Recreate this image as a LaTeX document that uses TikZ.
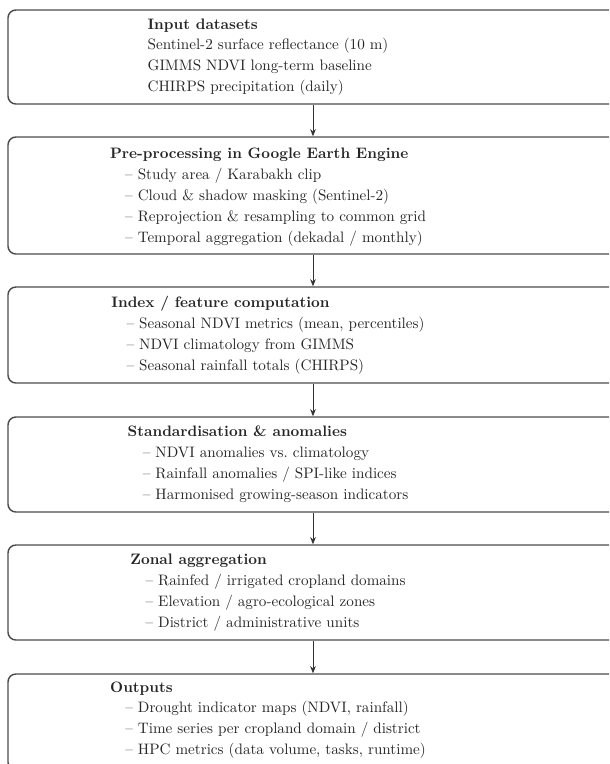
\documentclass[tikz,border=0pt]{standalone}
\usepackage{amsmath,amssymb}
\usepackage{tikz}
\usetikzlibrary{arrows.meta,positioning,calc}

\newcommand{\itm}[1]{\\\hspace*{1em}\textendash\ #1}

\begin{document}
\begin{tikzpicture}[x=0.7pt, y=-0.7pt,
    stage/.style={draw=black!70, line width=1pt, rounded corners=5.5pt, minimum width=427pt, inner sep=0pt},
    stagetxt/.style={align=left, inner sep=0pt, font=\fontsize{10.6}{14.6}\selectfont, text=black!85},
    arr/.style={-{Stealth[length=5pt, width=4pt]}, line width=0.6pt, black!80}
]
\useasboundingbox (0,0) rectangle (609,764);
\clip (0,0) rectangle (609,764);

% boxes
\node[stage, minimum height=65.8pt] (inp) at (313,57) {};
\node[stage, minimum height=81.9pt] (pre) at (313,195.5) {};
\node[stage, minimum height=67.2pt] (idx) at (313,335) {};
\node[stage, minimum height=66.5pt] (std) at (313,464.5) {};
\node[stage, minimum height=66.5pt] (zon) at (313,592.5) {};
\node[stage, minimum height=67.2pt] (out) at (313,722) {};

% texts
\node[stagetxt] (inp-t) at (268,57) {\textbf{Input datasets}\\
  Sentinel-2 surface reflectance (10 m)\\
  GIMMS NDVI long-term baseline\\
  CHIRPS precipitation (daily)};
\node[stagetxt] (pre-t) at (268,197) {\textbf{Pre-processing in Google Earth Engine}
  \itm{Study area / Karabakh clip}
  \itm{Cloud \& shadow masking (Sentinel-2)}
  \itm{Reprojection \& resampling to common grid}
  \itm{Temporal aggregation (dekadal / monthly)}};
\node[stagetxt] (idx-t) at (268,335) {\textbf{Index / feature computation}
  \itm{Seasonal NDVI metrics (mean, percentiles)}
  \itm{NDVI climatology from GIMMS}
  \itm{Seasonal rainfall totals (CHIRPS)}};
\node[stagetxt] (std-t) at (268,464.5) {\textbf{Standardisation \& anomalies}
  \itm{NDVI anomalies vs.\ climatology}
  \itm{Rainfall anomalies / SPI-like indices}
  \itm{Harmonised growing-season indicators}};
\node[stagetxt] (zon-t) at (268,592.5) {\textbf{Zonal aggregation}
  \itm{Rainfed / irrigated cropland domains}
  \itm{Elevation / agro-ecological zones}
  \itm{District / administrative units}};
\node[stagetxt] (out-t) at (268,720) {\textbf{Outputs}
  \itm{Drought indicator maps (NDVI, rainfall)}
  \itm{Time series per cropland domain / district}
  \itm{HPC metrics (data volume, tasks, runtime)}};

\draw[arr] (inp) -- (pre);
\draw[arr] (pre) -- (idx);
\draw[arr] (idx) -- (std);
\draw[arr] (std) -- (zon);
\draw[arr] (zon) -- (out);
\end{tikzpicture}
\end{document}
